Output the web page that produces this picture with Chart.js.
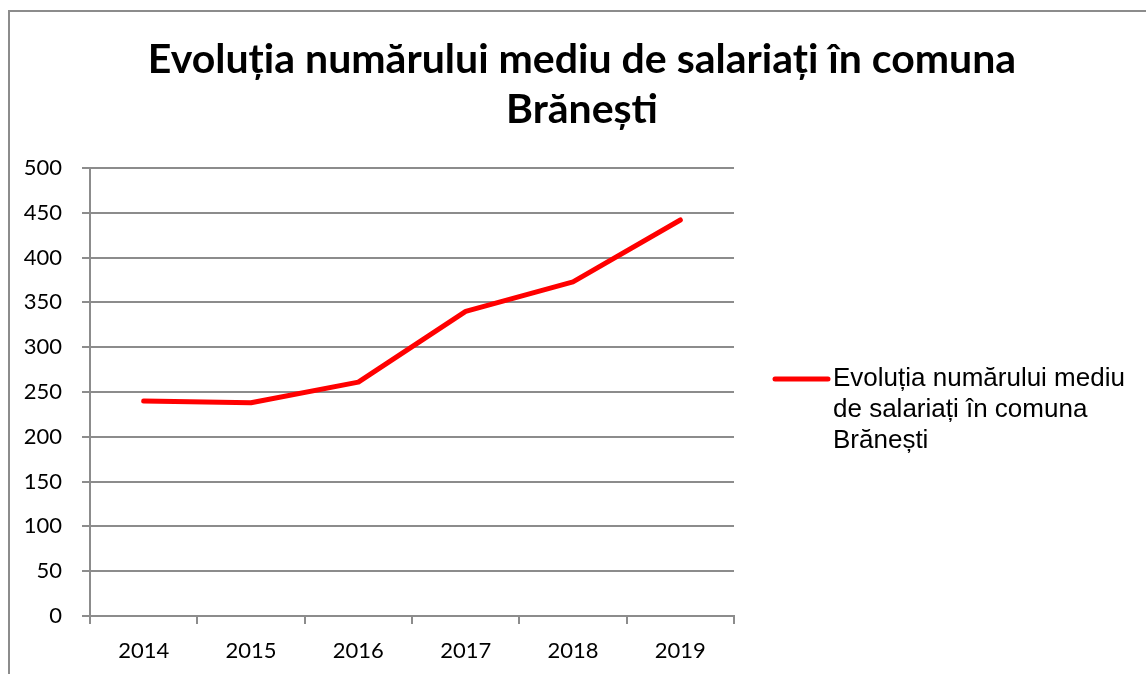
<!DOCTYPE html>
<html>
<head>
<meta charset="utf-8">
<script src="https://cdn.jsdelivr.net/npm/chart.js@4/dist/chart.umd.min.js"></script>
<style>
html,body{margin:0;padding:0;background:#fff;}
#wrap{position:relative;width:1146px;height:674px;overflow:hidden;}
#frame{position:absolute;left:8px;top:10px;width:1200px;height:700px;border-left:2px solid #8c8c8c;border-top:2px solid #8c8c8c;box-sizing:border-box;}
canvas{position:absolute;left:0;top:0;}
</style>
</head>
<body>
<div id="wrap"><div id="frame"></div><canvas id="c" width="1146" height="674"></canvas></div>
<script>
const categories = ['2014','2015','2016','2017','2018','2019'];
const values = [240, 238, 261, 340, 373, 442];
const seriesName = 'Evoluția numărului mediu de salariați în comuna Brănești';
const titleLines = ['Evoluția numărului mediu de salariați în comuna', 'Brănești'];
const legendLines = ['Evoluția numărului mediu', 'de salariați în comuna', 'Brănești'];

const titlePlugin = {
  id: 'wideTitle',
  afterDraw(chart) {
    const ctx = chart.ctx;
    ctx.save();
    ctx.fillStyle = '#000';
    ctx.font = 'bold 41px Lato, "Open Sans", sans-serif';
    ctx.textAlign = 'center';
    ctx.textBaseline = 'middle';
    titleLines.forEach((t, i) => ctx.fillText(t, 582, 60 + i * 50));
    ctx.restore();
  }
};

const legendPlugin = {
  id: 'wrapLegend',
  afterDraw(chart) {
    const ctx = chart.ctx;
    const ds = chart.data.datasets[0];
    const area = chart.chartArea;
    const x0 = area.right + 41, y0 = area.top + 211;
    ctx.save();
    ctx.strokeStyle = ds.borderColor;
    ctx.lineWidth = 5;
    ctx.lineCap = 'round';
    ctx.beginPath();
    ctx.moveTo(x0, y0);
    ctx.lineTo(x0 + 53, y0);
    ctx.stroke();
    ctx.fillStyle = '#000';
    ctx.font = '26px "Liberation Sans", Arial, sans-serif';
    ctx.textBaseline = 'middle';
    legendLines.forEach((t, i) => ctx.fillText(t, x0 + 58, y0 + i * 31));
    ctx.restore();
  }
};

new Chart(document.getElementById('c'), {
  type: 'line',
  data: {
    labels: categories,
    datasets: [{
      label: seriesName,
      data: values,
      borderColor: '#ff0000',
      backgroundColor: '#ff0000',
      borderWidth: 5,
      borderCapStyle: 'round',
      borderJoinStyle: 'round',
      pointRadius: 0,
      tension: 0,
      fill: false
    }]
  },
  options: {
    responsive: false,
    animation: false,
    layout: { padding: { left: 10, right: 412, top: 168, bottom: 0 } },
    plugins: {
      legend: { display: false },
      tooltip: { enabled: false },
      title: { display: false }
    },
    scales: {
      x: {
        offset: true,
        grid: { offset: true, drawOnChartArea: false, drawTicks: true, tickLength: 8, color: '#8c8c8c', lineWidth: 2 },
        border: { color: '#8c8c8c', width: 2 },
        ticks: { color: '#000', font: { family: 'Lato, sans-serif', size: 22 }, padding: 14 },
        afterFit(s) { s.height = 58; }
      },
      y: {
        min: 0, max: 500,
        ticks: { stepSize: 50, color: '#000', font: { family: 'Lato, sans-serif', size: 22 }, padding: 20 },
        grid: { color: '#8c8c8c', lineWidth: 2, tickLength: 8 },
        border: { color: '#8c8c8c', width: 2 },
        afterFit(s) { s.width = 80; }
      }
    }
  },
  plugins: [titlePlugin, legendPlugin]
});
</script>
</body>
</html>
